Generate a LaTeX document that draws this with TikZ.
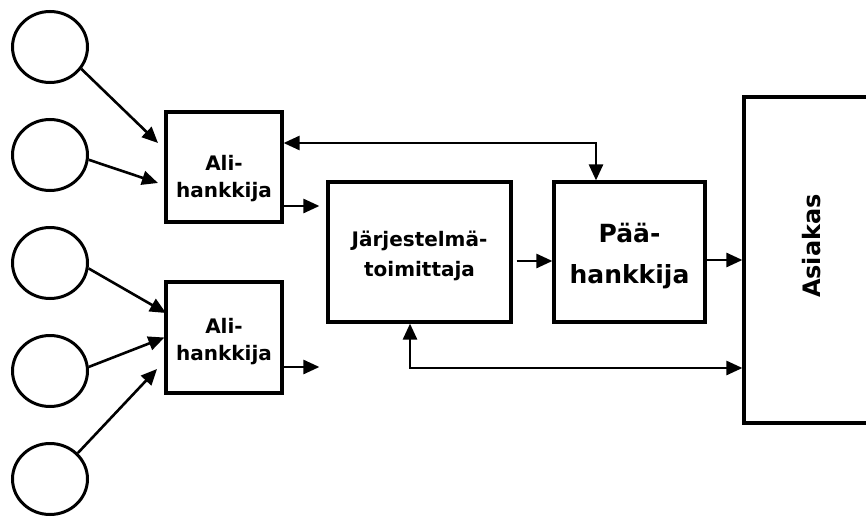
\documentclass[tikz,border=0pt]{standalone}
\usepackage{fontspec}
\setmainfont{DejaVu Sans}
\usetikzlibrary{arrows.meta,calc,shapes.geometric}

\tikzset{
  source/.style={ellipse, draw, line width=3pt, minimum width=75pt, minimum height=71pt, inner sep=0pt},
  box/.style={rectangle, draw, line width=3.2pt, inner sep=0pt},
  label/.style={inner sep=0pt, align=center},
  flow/.style={line width=2.6pt, -{Triangle[length=16pt,width=14pt]}},
  twoway/.style={line width=2.6pt, {Triangle[length=16pt,width=14pt]}-{Triangle[length=16pt,width=14pt]}},
}

\begin{document}
\begin{tikzpicture}[x=1pt,y=-1pt]
\useasboundingbox (0,0) rectangle (866,516);
\clip (0,0) rectangle (866,516);

% suppliers of the subcontractors
\node[source] (c1) at (50,47) {};
\node[source] (c2) at (50,155) {};
\node[source] (c3) at (50,263) {};
\node[source] (c4) at (50,371) {};
\node[source] (c5) at (50,479) {};

% subcontractors
\node[box, minimum width=116pt, minimum height=110pt] (a1) at (224,167) {};
\node[box, minimum width=116pt, minimum height=111pt] (a2) at (224,337.5) {};
\node[label, font=\bfseries\fontsize{20}{27}\selectfont] (a1l) at (224,179) {Ali-\\hankkija};
\node[label, font=\bfseries\fontsize{20}{27}\selectfont] (a2l) at (224,342) {Ali-\\hankkija};

% system supplier, main contractor, customer
\node[box, minimum width=183pt, minimum height=140pt] (j) at (419.5,252) {};
\node[label, font=\bfseries\fontsize{20}{30}\selectfont] (jl) at (419.5,256) {Järjestelmä-\\toimittaja};
\node[box, minimum width=151pt, minimum height=140pt] (p) at (629.5,252) {};
\node[label, font=\bfseries\fontsize{25}{41}\selectfont] (pl) at (629.5,256) {Pää-\\hankkija};
\node[box, minimum width=136pt, minimum height=326pt] (as) at (812,260) {};
\node[label, font=\bfseries\fontsize{24}{28}\selectfont, rotate=90] (asl) at (812,246) {Asiakas};

% free arrow ends
\coordinate (t1) at (158,143);
\coordinate (t2) at (158,183);
\coordinate (t3) at (166,313);
\coordinate (t5) at (157,369);

\draw[flow] (c1.-35) -- (t1);
\draw[flow] (c2.-7) -- (t2);
\draw[flow] (c3.-8) -- (t3);
\draw[flow] (c4.6) -- (a2.west);
\draw[flow] (c5.43) -- (t5);

% subcontractors to system supplier
\draw[flow, shorten >=7pt] ([yshift=-39pt]a1.east) -- ([yshift=-39pt]a1.east -| j.west);
\draw[flow, shorten >=7pt] ([yshift=-29.5pt]a2.east) -- ([yshift=-29.5pt]a2.east -| j.west);

% main chain
\draw[flow, shorten <=4pt] (j.east |- 0,261) -- (p.west |- 0,261);
\draw[flow, shorten <=-3pt] ([yshift=-8pt]p.east) -- ([yshift=-8pt]p.east -| as.west);

% two-way links
\draw[twoway] ([yshift=24pt]a1.east) -| ([xshift=-33.5pt]p.north);
\draw[twoway] ([xshift=-9.5pt]j.south) |- (as.west |- 0,368);
\end{tikzpicture}
\end{document}
